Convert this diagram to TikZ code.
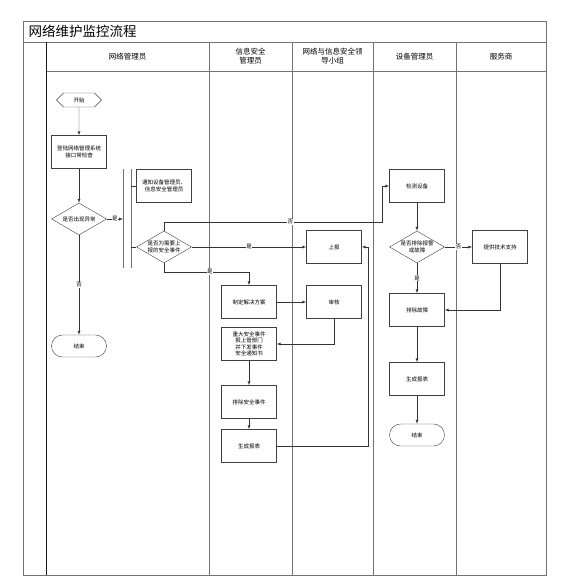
\documentclass[tikz,border=0pt]{standalone}
\usepackage{fontspec}
\setmainfont{Noto Sans CJK SC}
\usetikzlibrary{shapes.geometric,shapes.symbols,positioning}

\newcommand{\smallcn}{\fontsize{5.5}{6.5}\selectfont}
\newcommand{\headcn}{\fontsize{7.5}{9}\selectfont}

\begin{document}
\begin{tikzpicture}[x=1pt,y=-1pt,>=latex,
  box/.style={draw=black!75, rectangle, minimum width=55, minimum height=33, align=center, font=\smallcn, inner sep=1pt},
  decision/.style={draw=black!75, diamond, aspect=1.7, inner sep=0pt, align=center, font=\smallcn, minimum width=55, minimum height=32},
  term/.style={draw=black!75, rectangle, rounded corners=11, minimum width=55, minimum height=22, font=\smallcn},
  hexa/.style={draw=black!75, signal, signal to=west and east, minimum width=45, minimum height=14, font=\smallcn, inner sep=1pt},
  lane/.style={draw=black!55, line width=0.9pt},
  flow/.style={draw=black!80, ->},
  link/.style={draw=black!80},
  tag/.style={fill=white, inner sep=0.5pt, font=\smallcn}]
\useasboundingbox (0,0) rectangle (567,588);
\draw[lane] (23,21) rectangle (546,575);
\draw[lane] (23,42) -- (546,42);
\draw[lane] (46,71) -- (546,71);
\draw[black!90, line width=0.9pt] (46,42) -- (46,575);
\foreach \x in {209,292,373,456} \draw[lane] (\x,42) -- (\x,575);
\node[anchor=west, font=\fontsize{13.5}{16}\selectfont] (title) at (25,31.5) {网络维护监控流程};
\node[font=\headcn] (h1) at (127.5,56.5) {网络管理员};
\node[font=\headcn, align=center] (h2) at (250.5,56.5) {信息安全\\管理员};
\node[font=\headcn, align=center] (h3) at (332.5,56.5) {网络与信息安全领\\导小组};
\node[font=\headcn] (h4) at (414.5,56.5) {设备管理员};
\node[font=\headcn] (h5) at (501,56.5) {服务商};
\node[hexa] (start) at (79,100) {开始};
\node[box] (login) at (79,152) {登陆网络管理系统\\接口常检查};
\node[decision] (abn) at (79,219) {是否出现异常};
\node[term] (end1) at (79,346) {结束};
\node[box] (notify) at (164,186) {通知设备管理员、\\信息安全管理员};
\node[decision] (sec) at (164,247) {是否为需要上\\报的安全事件};
\node[box] (report) at (334,247) {上报};
\node[box] (plan) at (249,302) {制定解决方案};
\node[box] (audit) at (334,302) {审核};
\node[box] (notice) at (249,344) {重大安全事件\\报上管部门\\并下发事件\\安全通知书};
\node[box] (clear) at (249,402) {排除安全事件};
\node[box] (rep1) at (249,446) {生成报表};
\node[box] (detect) at (417,186) {检测设备};
\node[decision] (fault) at (417,247) {是否排除报警\\或故障};
\node[box] (support) at (500,247) {提供技术支持};
\node[box] (fix) at (417,310) {排除故障};
\node[box] (rep2) at (417,379) {生成报表};
\node[term] (end2) at (417,435) {结束};
\coordinate (fa) at (123,169);
\coordinate (fb) at (123,268);
\coordinate (ga) at (131,169);
\coordinate (gb) at (131,268);
\coordinate (nb) at (382,222);
\coordinate (sb) at (249,272);
\coordinate (rb) at (368,446);
\draw[lane] (fa) -- (fb);
\draw[lane] (ga) -- (gb);
\draw[flow] (start) -- (login);
\draw[flow] (login) -- (abn);
\draw[flow] (abn) -- node[tag] (y1) {是} (abn -| fa);
\draw[flow] (abn) -- node[tag] (n1) {否} (end1);
\draw[link] (ga |- notify) -- (notify);
\draw[link] (ga |- sec) -- (sec);
\draw[flow] (sec.north) |- node[tag, pos=0.79] (n2) {否} (nb) |- (detect);
\draw[flow] (sec) -- node[tag] (y2) {是} (report);
\draw[flow] (sec.south) |- node[tag, pos=0.77] (y3) {是} (sb) -- (plan);
\draw[flow] (plan) -- (audit);
\draw[flow] (audit.south) |- (notice);
\draw[flow] (notice) -- (clear);
\draw[flow] (clear) -- (rep1);
\draw[flow] (rep1) -- (rb) |- (report);
\draw[flow] (detect) -- (fault);
\draw[flow] (fault) -- node[tag] (n3) {否} (support);
\draw[flow] (fault) -- node[tag] (y4) {是} (fix);
\draw[flow] (support.south) |- (fix);
\draw[flow] (fix) -- (rep2);
\draw[flow] (rep2) -- (end2);
\end{tikzpicture}
\end{document}
